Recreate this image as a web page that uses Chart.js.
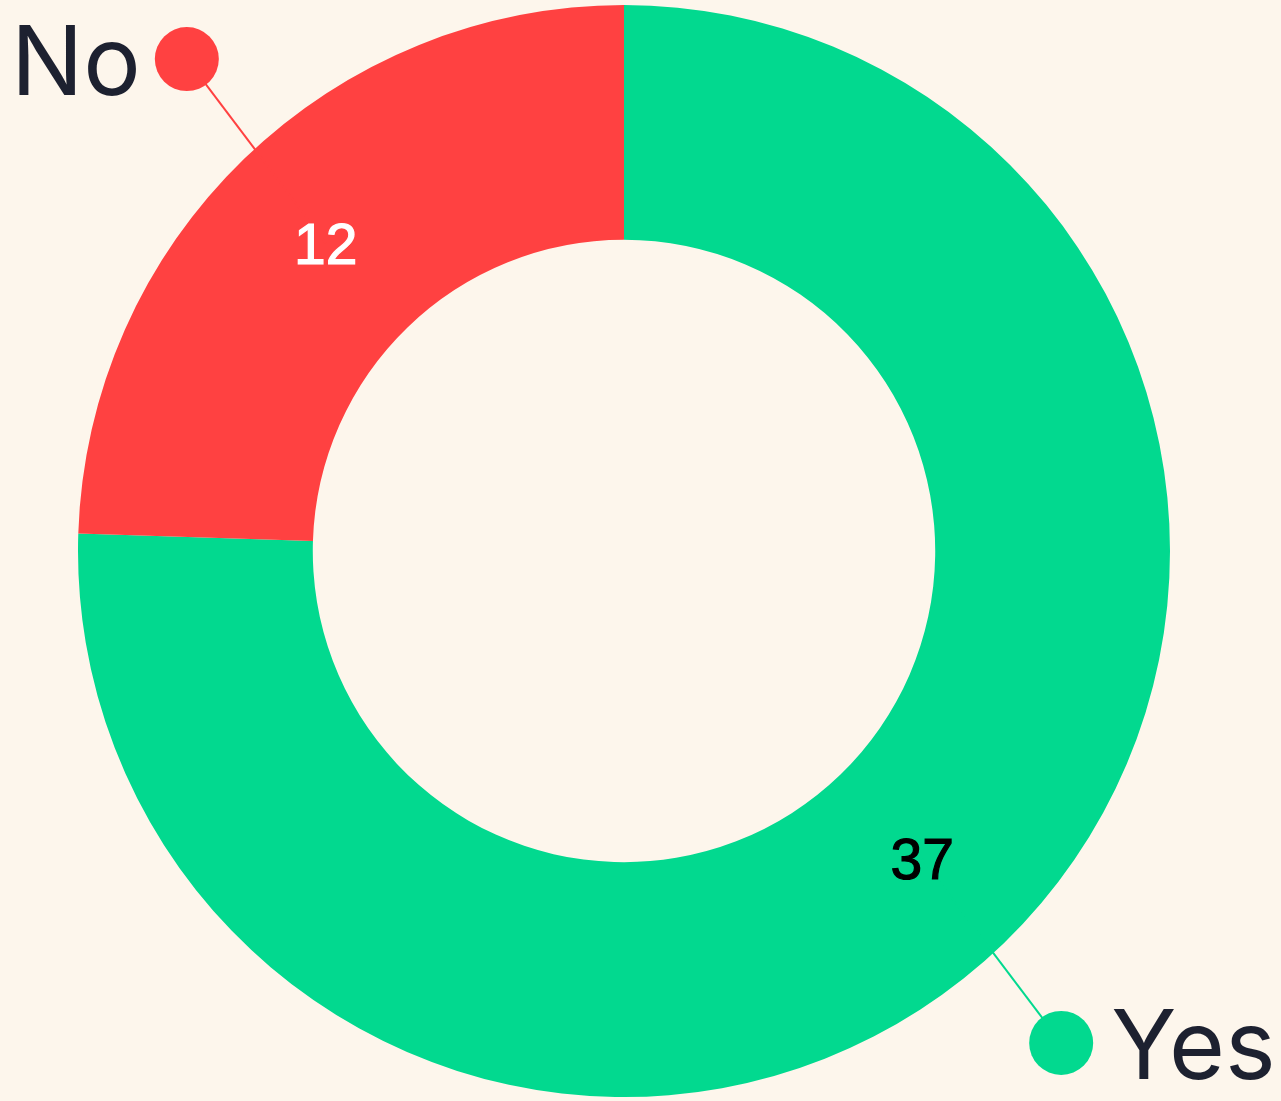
<!DOCTYPE html>
<html>
<head>
<meta charset="utf-8">
<script src="https://cdn.jsdelivr.net/npm/chart.js@4"></script>
<style>
  html, body { margin: 0; padding: 0; background: #fdf6ec; }
  #wrap { width: 1281px; height: 1101px; position: relative; }
</style>
</head>
<body>
<div id="wrap"><canvas id="answersChart"></canvas></div>
<script>
// chart data
const answers = ['Yes', 'No'];
const answerCounts = [37, 12];
const sliceColors = ['#02d98f', '#ff4141'];
const countColors = ['#000000', '#ffffff'];

// draws the count inside each slice and the name on a pin outside it
const pinLabels = {
  id: 'pinLabels',
  afterDatasetsDraw(chart) {
    const { ctx } = chart;
    const arcs = chart.getDatasetMeta(0).data;
    arcs.forEach((arc, i) => {
      const { x, y, startAngle, endAngle, innerRadius, outerRadius } = arc.getProps(
        ['x', 'y', 'startAngle', 'endAngle', 'innerRadius', 'outerRadius'],
        true
      );
      const mid = (startAngle + endAngle) / 2;
      const r = (innerRadius + outerRadius) / 2;
      const lx = x + Math.cos(mid) * r;
      const ly = y + Math.sin(mid) * r;
      const sx = Math.cos(mid) < 0 ? -1 : 1;
      const sy = Math.sin(mid) < 0 ? -1 : 1;
      const dotX = lx + sx * 139;
      const dotY = ly + sy * 184;

      ctx.save();
      // pin line
      ctx.strokeStyle = sliceColors[i];
      ctx.lineWidth = 2;
      ctx.beginPath();
      ctx.moveTo(lx, ly);
      ctx.lineTo(dotX, dotY);
      ctx.stroke();
      // pin dot
      ctx.fillStyle = sliceColors[i];
      ctx.beginPath();
      ctx.arc(dotX, dotY, 32, 0, Math.PI * 2);
      ctx.fill();

      // count inside the slice
      ctx.fillStyle = countColors[i];
      ctx.font = '57px "Liberation Sans", Arial, sans-serif';
      ctx.textAlign = 'center';
      ctx.textBaseline = 'alphabetic';
      ctx.lineWidth = 1.2;
      ctx.strokeStyle = countColors[i];
      ctx.fillText(String(answerCounts[i]), lx, ly + 20.5);
      ctx.strokeText(String(answerCounts[i]), lx, ly + 20.5);

      // answer name next to the dot
      ctx.fillStyle = '#1d2130';
      ctx.font = '96px Inter';
      ctx.textAlign = sx < 0 ? 'right' : 'left';
      ctx.fillText(answers[i], dotX + sx * (sx < 0 ? 46 : 50), dotY + 36);
      ctx.restore();
    });
  },
};

function drawChart() {
  const ctx = document.getElementById('answersChart').getContext('2d');
  return new Chart(ctx, {
    type: 'doughnut',
    data: {
      labels: answers,
      datasets: [
        {
          data: answerCounts,
          backgroundColor: sliceColors,
          borderWidth: 0,
        },
      ],
    },
    options: {
      responsive: true,
      maintainAspectRatio: false,
      animation: false,
      cutout: '57%',
      layout: {
        padding: { top: 5, bottom: 4, left: 78, right: 111 },
      },
      plugins: {
        legend: { display: false },
        tooltip: { enabled: false },
      },
    },
    plugins: [pinLabels],
  });
}

document.fonts.load('96px Inter').then(drawChart, drawChart);
</script>
</body>
</html>
